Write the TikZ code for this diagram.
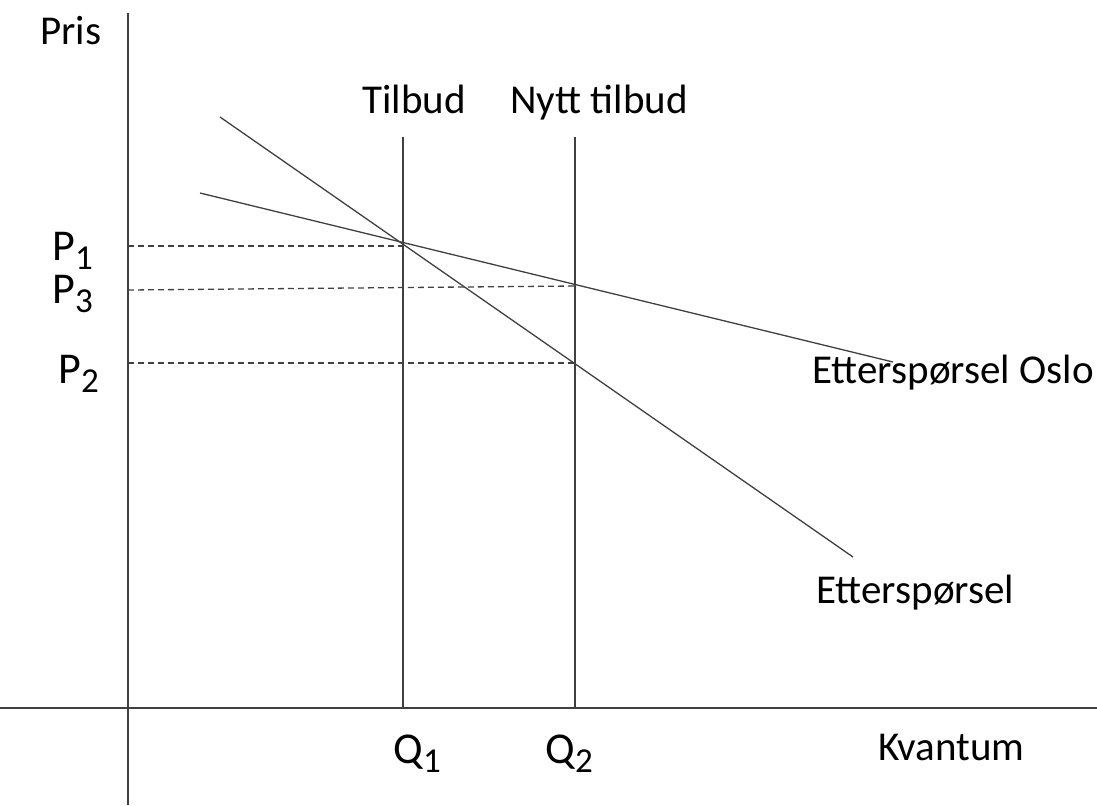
\documentclass[tikz,border=0pt]{standalone}
\usepackage{fontspec}
\setmainfont{Carlito}
\newcommand{\lowsub}[1]{\raisebox{-0.45ex}{\fontsize{17.5}{18}\selectfont #1}}
\begin{document}
\begin{tikzpicture}[x=0.5pt,y=-0.5pt]
\tikzstyle{axis} = [line width=0.9pt, draw=black!75]
\tikzstyle{curve} = [line width=0.65pt, draw=black!75]
\tikzstyle{guide} = [line width=0.65pt, draw=black!75, dash pattern=on 3pt off 2pt]
\tikzstyle{lbl} = [inner sep=0pt, anchor=base west, font=\fontsize{20.5}{22}\selectfont]
\tikzstyle{pqlbl} = [inner sep=0pt, anchor=base west, font=\fontsize{22}{24}\selectfont]
\useasboundingbox (0,0) rectangle (1097,805);
%
% axes
\coordinate (ytop) at (128,13);
\coordinate (ybot) at (128,805);
\coordinate (xleft) at (0,708);
\coordinate (xright) at (1097,708);
\draw [axis] (ytop) -- (ybot);
\draw [axis] (xleft) -- (xright);
%
% supply lines
\coordinate (s1top) at (403,137);
\coordinate (s1bot) at (403,708);
\coordinate (s2top) at (575,137);
\coordinate (s2bot) at (575,708);
\draw [curve] (s1top) -- (s1bot);
\draw [curve] (s2top) -- (s2bot);
%
% demand lines
\coordinate (d1start) at (220,117);
\coordinate (d1end) at (853,557);
\coordinate (d2start) at (200,193);
\coordinate (d2end) at (893,362);
\draw [curve] (d1start) -- (d1end);
\draw [curve] (d2start) -- (d2end);
%
% price guides
\coordinate (p1left) at (128,246);
\coordinate (p1right) at (403,246);
\coordinate (p3left) at (128,290);
\coordinate (p3right) at (575,286);
\coordinate (p2left) at (128,363);
\coordinate (p2right) at (575,363);
\draw [guide] (p1left) -- (p1right);
\draw [guide] (p3left) -- (p3right);
\draw [guide] (p2left) -- (p2right);
%
% labels
\node (pris)    [lbl] at (40,44) {Pris};
\node (kvantum) [lbl] at (878,760) {Kvantum};
\node (tilbud)  [lbl] at (362,113) {Tilbud};
\node (nytt)    [lbl] at (510,113) {Nytt tilbud};
\node (oslo)    [lbl] at (812,383) {Etterspørsel Oslo};
\node (ettersp) [lbl] at (816,603) {Etterspørsel};
\node (p1) [pqlbl] at (52,260) {P\lowsub{1}};
\node (p3) [pqlbl] at (52,303) {P\lowsub{3}};
\node (p2) [pqlbl] at (58,383) {P\lowsub{2}};
\node (q1) [pqlbl] at (393,763) {Q\lowsub{1}};
\node (q2) [pqlbl] at (545,763) {Q\lowsub{2}};
\end{tikzpicture}
\end{document}
